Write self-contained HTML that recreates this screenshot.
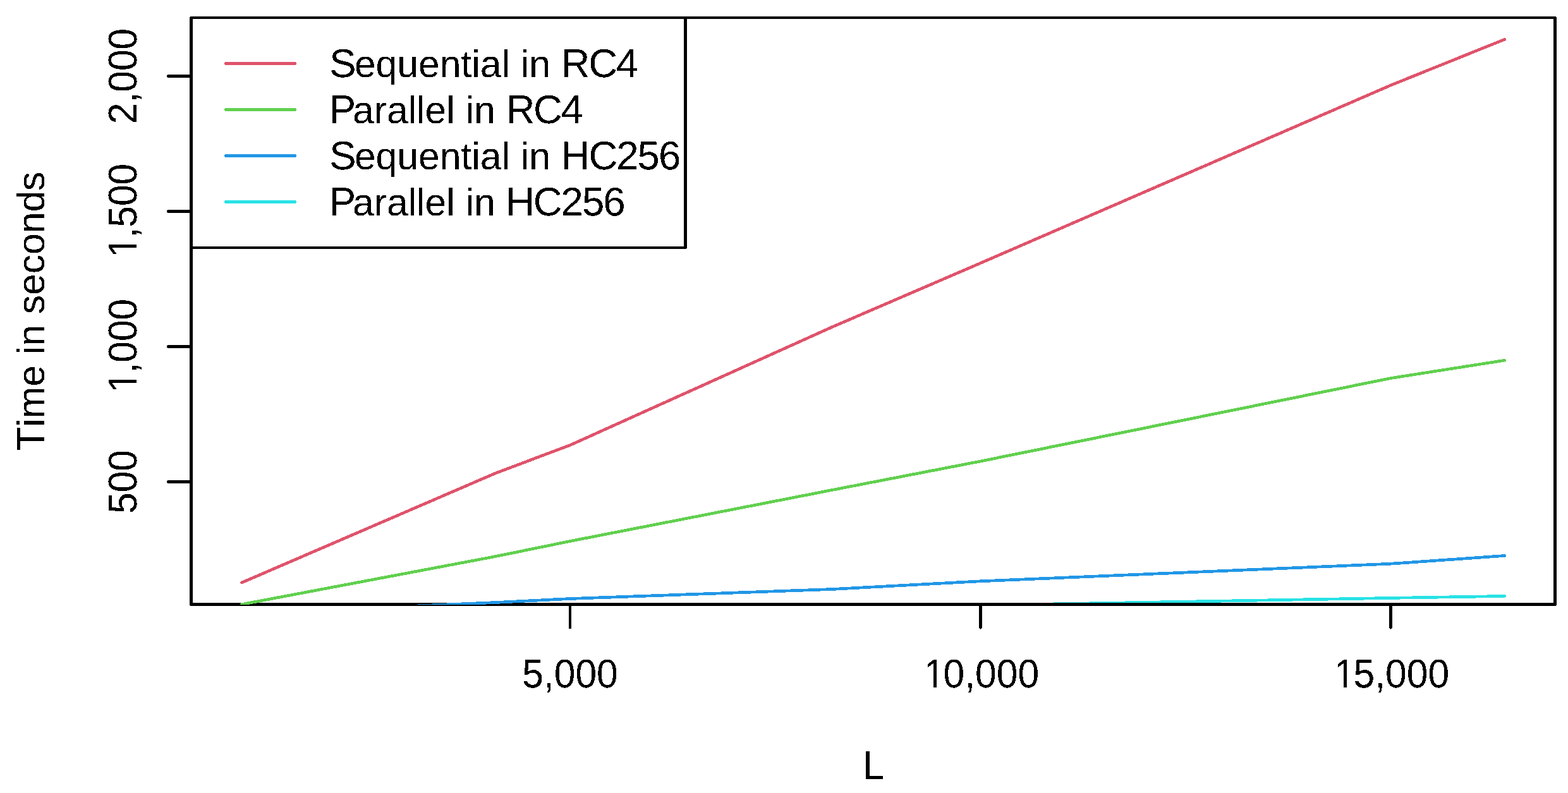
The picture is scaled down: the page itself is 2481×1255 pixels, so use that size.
<!DOCTYPE html>
<html lang="en">
<head>
<meta charset="utf-8">
<title>Time in seconds vs L</title>
<style>
html,body{margin:0;padding:0;background:#fff;}
body{width:2481px;height:1255px;}
svg{display:block;}
.t{font-family:"Liberation Sans",sans-serif;font-size:60.6px;fill:#000;text-rendering:geometricPrecision;font-kerning:none;font-variant-ligatures:none;}
.c{font-size:63.5px;}
.ln{fill:none;stroke-width:4.7;stroke-linecap:round;stroke-linejoin:round;}
.ax{fill:none;stroke:#000;stroke-width:4.7;stroke-linecap:round;stroke-linejoin:round;}
</style>
</head>
<body>
<svg width="2481" height="1255" viewBox="0 0 2481 1255">
<defs>
<clipPath id="plot"><rect x="303" y="28" width="2158" height="929"/></clipPath>
<filter id="bin" x="0" y="0" width="2481" height="1255" filterUnits="userSpaceOnUse" color-interpolation-filters="sRGB">
<feComponentTransfer><feFuncA type="discrete" tableValues="0 1"/></feComponentTransfer>
</filter>
</defs>
<rect x="0" y="0" width="2481" height="1255" fill="#fff"/>

<g shape-rendering="crispEdges" clip-path="url(#plot)">
<polyline class="ln" stroke="#28E2E5" points="382.4,974.5 1551.4,957.9 2200.8,946.4 2380.6,943.4"/>
</g>
<g class="ax" shape-rendering="crispEdges">
<line x1="302.5" y1="120.5" x2="266" y2="120.5"/>
<line x1="302.5" y1="334.5" x2="266" y2="334.5"/>
<line x1="302.5" y1="548.5" x2="266" y2="548.5"/>
<line x1="302.5" y1="762.5" x2="266" y2="762.5"/>
<line x1="902" y1="956.5" x2="902" y2="993.3"/>
<line x1="1551.5" y1="956.5" x2="1551.5" y2="993.3"/>
<line x1="2200.5" y1="956.5" x2="2200.5" y2="993.3"/>
<rect x="302.5" y="28" width="2158" height="928.5"/>
</g>
<g shape-rendering="crispEdges" clip-path="url(#plot)">
<polyline class="ln" stroke="#DF536B" points="382.4,922.1 784.5,748.7 902.0,704.5 1316.5,517.6 1551.4,416.4 2200.8,134.8 2380.6,62.4"/>
<polyline class="ln" stroke="#61D04F" points="382.4,956.5 784.5,880.5 902.0,856.5 1316.5,775.5 1551.4,730.0 2200.8,598.5 2380.6,570.3"/>
<polyline class="ln" stroke="#2297E6" points="382.4,970.9 784.5,953.5 902.0,947.5 1316.5,932.5 1551.4,919.8 2200.8,892.2 2380.6,879.5"/>
</g>
<g shape-rendering="crispEdges">
<rect class="ax" x="302.5" y="28" width="782" height="364" style="fill:#fff"/>
<line class="ln" stroke="#DF536B" x1="357.4" y1="100.5" x2="466.6" y2="100.5"/>
<line class="ln" stroke="#61D04F" x1="357.4" y1="173.5" x2="466.6" y2="173.5"/>
<line class="ln" stroke="#2297E6" x1="357.4" y1="246.5" x2="466.6" y2="246.5"/>
<line class="ln" stroke="#28E2E5" x1="357.4" y1="319.5" x2="466.6" y2="319.5"/>
</g>
<g filter="url(#bin)">
<text class="t" y="122"><tspan class="c" x="521.3">S</tspan><tspan x="560.9">equential in </tspan><tspan class="c" x="887.6" letter-spacing="-2.3">RC4</tspan></text>
<text class="t" y="195"><tspan class="c" x="520.8">P</tspan><tspan x="558.0">arallel in </tspan><tspan class="c" x="800.5" letter-spacing="-2.3">RC4</tspan></text>
<text class="t" y="268"><tspan class="c" x="521.3">S</tspan><tspan x="560.9">equential in </tspan><tspan class="c" x="887.6" letter-spacing="-2.0">HC256</tspan></text>
<text class="t" y="341"><tspan class="c" x="520.8">P</tspan><tspan x="558.0">arallel in </tspan><tspan class="c" x="799.9" letter-spacing="-2.0">HC256</tspan></text>
<text class="t" text-anchor="middle" transform="translate(902,1088.4) scale(1,1.054)">5,000</text>
<g transform="translate(1551.5,1088.4)">
<text class="t" x="-1.4" text-anchor="middle" transform="scale(1,1.054)"><tspan dx="2.8">1</tspan><tspan dx="-2.8">0,000</tspan></text>
<rect x="-87.88" y="-5.6" width="13.38" height="6.6" fill="#fff" shape-rendering="crispEdges"/>
<rect x="-69.50" y="-5.6" width="12.62" height="6.6" fill="#fff" shape-rendering="crispEdges"/>
</g>
<g transform="translate(2200.5,1088.4)">
<text class="t" x="-1.4" text-anchor="middle" transform="scale(1,1.054)"><tspan dx="2.8">1</tspan><tspan dx="-2.8">5,000</tspan></text>
<rect x="-87.88" y="-5.6" width="13.38" height="6.6" fill="#fff" shape-rendering="crispEdges"/>
<rect x="-69.50" y="-5.6" width="12.62" height="6.6" fill="#fff" shape-rendering="crispEdges"/>
</g>
<text class="t" text-anchor="middle" transform="translate(215.6,120.5) rotate(-90) scale(1,1.054)">2,000</text>
<g transform="translate(215.6,334.5) rotate(-90)">
<text class="t" x="-1.4" text-anchor="middle" transform="scale(1,1.054)"><tspan dx="2.8">1</tspan><tspan dx="-2.8">,500</tspan></text>
<rect x="-71.02" y="-5.6" width="13.52" height="6.6" fill="#fff" shape-rendering="crispEdges"/>
<rect x="-52.50" y="-5.6" width="12.48" height="6.6" fill="#fff" shape-rendering="crispEdges"/>
</g>
<g transform="translate(215.6,548.5) rotate(-90)">
<text class="t" x="-1.4" text-anchor="middle" transform="scale(1,1.054)"><tspan dx="2.8">1</tspan><tspan dx="-2.8">,000</tspan></text>
<rect x="-71.02" y="-5.6" width="13.52" height="6.6" fill="#fff" shape-rendering="crispEdges"/>
<rect x="-52.50" y="-5.6" width="12.48" height="6.6" fill="#fff" shape-rendering="crispEdges"/>
</g>
<text class="t" text-anchor="middle" transform="translate(215.6,762.5) rotate(-90) scale(1,1.054)">500</text>
<text class="t" text-anchor="middle" transform="translate(1381.8,1233) scale(1,1.054)">L</text>
<text class="t" text-anchor="middle" transform="translate(70,492.6) rotate(-90)"><tspan font-size="62.5">T</tspan>ime in seconds</text>
</g>
</svg>
</body>
</html>
